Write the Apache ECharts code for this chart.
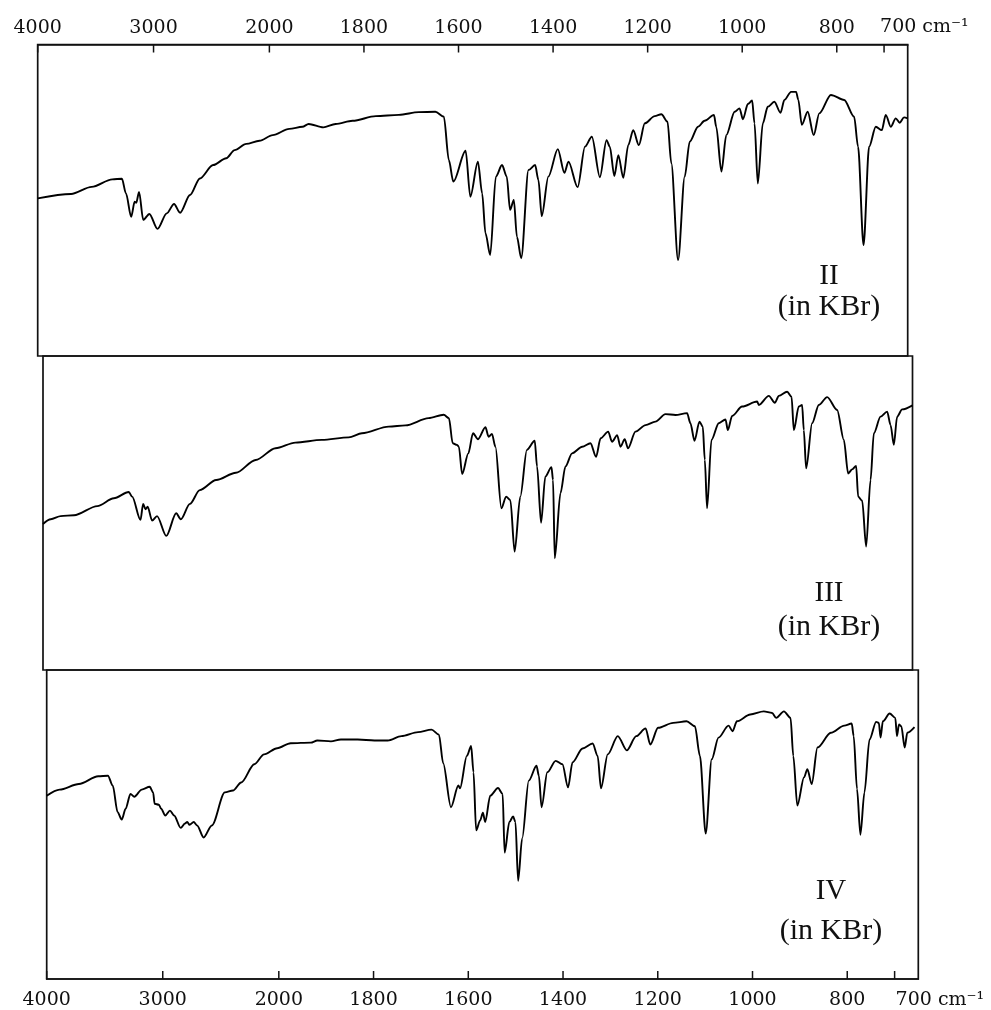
<!DOCTYPE html>
<html><head><meta charset="utf-8">
<script src="https://cdn.jsdelivr.net/npm/echarts@6/dist/echarts.min.js"></script>
<style>html,body{margin:0;padding:0;background:#fff}#c{width:991px;height:1010px}</style>
</head><body><div id="c"></div>
<script>
// ---- axis ticks (cm^-1) ----
const tickWavenumbers = [4000, 3000, 2000, 1800, 1600, 1400, 1200, 1000, 800, 700];
const labelWavenumbers = [4000, 3000, 2000, 1800, 1600, 1400, 1200, 1000, 800];
const axisEndWavenumber = 650;

// ---- spectrum II (in KBr) ----
const wnII = [4000,3712,3534,3356,3273,3238,3193,3163,3149,3125,
  3089,3036,2966,2886,2823,2771,2685,2600,2486,2372,
  2300,2200,2086,1993,1958,1930,1917,1886,1860,1824,
  1775,1726,1684,1649,1631,1620.5,1611,1585,1575,1559,
  1550,1543,1533,1521,1508,1498,1491,1483,1476.5,1467.4,
  1452,1438,1431,1424,1410,1390,1376,1367.5,1348,1332.5,
  1318,1301,1287,1280,1270.5,1262,1251.5,1241,1230.5,1218.6,
  1206,1185,1171,1158,1150,1135.6,1121.6,1111,1093.4,1079.5,
  1059.7,1055,1044,1033.7,1016,1005.7,998.5,988,979,974,
  967,956.4,946,932,919,910.8,896.7,886,881.3,874,
  861.5,848.8,837,812.4,784.3,763.3,755,743.4,731.6,717.5,
  704.8,696.4,685.8,675.3,666.8,657.8,650];
const tII = [50.6,52.0,54.3,56.7,56.9,52.2,44.7,49.5,49.2,52.7,
  43.7,45.6,40.8,45.8,48.8,46.0,51.7,57.0,61.3,63.5,
  66.1,68.1,69.1,70.9,72.9,73.6,74.5,73.4,74.5,75.5,
  77.0,77.4,78.3,78.4,76.8,62.9,56.0,65.9,51.1,62.4,
  52.2,39.4,32.4,57.6,61.3,57.6,46.9,50.1,38.3,31.4,
  59.7,61.3,56.5,44.9,57.6,66.4,58.8,62.4,54.2,67.2,
  70.4,57.4,69.3,67.2,57.8,64.5,57.2,67.7,72.5,67.7,
  74.7,77.0,77.6,75.2,61.9,30.8,57.6,68.8,73.6,75.5,
  77.4,73.6,59.2,70.9,78.4,79.5,76.0,80.9,82.0,74.7,
  55.4,74.7,80.0,81.6,78.1,82.2,84.8,84.8,82.2,74.2,
  78.4,70.9,77.9,83.8,82.2,76.8,67.2,35.6,67.2,73.6,
  72.5,77.4,73.6,76.3,74.9,76.6,76.3];

// ---- spectrum III (in KBr) ----
const wnIII = [4000,3933,3847,3732,3531,3388,3259,3230,3158,3135,
  3115,3096,3058,3015,2935,2850,2810,2731,2646,2504,
  2334,2163,1998,1956,1900,1843,1815,1758.5,1723,1674,
  1642,1631,1623,1614,1610,1603,1590,1580,1569.4,1553.8,
  1547,1540,1532.6,1520,1510,1501,1492,1480,1466,1449.4,
  1444.5,1436,1427,1414,1410.7,1407,1395,1384.4,1370.4,1349,
  1331.5,1319.6,1310,1294,1285.8,1275,1268,1259,1252,1236.2,
  1215,1194,1172.7,1151.6,1127,1120,1111.3,1100.8,1093.8,1089.5,
  1084.7,1075.4,1060,1045.7,1040.8,1031.7,1010.6,978.8,975.2,954,
  941.4,932.9,915.3,906,901.1,890.6,883.6,880,875.1,862.4,
  848.2,830.6,809.5,795.3,786.2,777.7,769.3,765,756.5,748.1,
  738.8,731.8,717.6,703.6,696.4,689.5,682.5,671.9,650];
const tIII = [46.5,48.0,49.0,49.3,52.2,54.7,56.7,55.2,47.8,52.9,
  51.2,52.0,47.6,49.0,42.7,49.9,48.0,52.9,57.3,60.5,
  62.8,66.9,70.6,72.4,73.3,74.1,75.4,77.5,77.9,80.2,
  81.3,80.2,72.2,71.7,71.1,62.4,69.0,75.4,73.5,77.3,
  74.3,75.2,71.1,51.5,55.2,54.1,37.7,55.2,70.1,73.0,
  64.8,46.9,61.6,64.6,60.5,35.6,56.3,64.8,69.0,71.1,
  72.2,67.9,73.8,75.9,72.7,74.8,71.1,73.5,70.6,75.9,
  78.0,79.1,81.5,81.2,81.8,78.6,73.0,79.1,77.5,66.9,
  51.5,73.3,78.6,79.8,76.4,80.9,83.9,85.5,84.4,87.3,
  85.1,87.3,88.6,87.0,76.4,83.9,84.4,76.4,64.2,78.6,
  84.4,86.9,82.8,73.3,62.6,63.9,65.0,55.2,53.9,39.3,
  60.5,75.4,80.7,82.3,78.0,71.7,80.7,83.0,84.3];

// ---- spectrum IV (in KBr) ----
const wnIV = [4000,3889,3722.5,3556,3472.5,3431,3389,3353.4,3320,3278,
  3245,3181,3112,3083,3070,3033,3014,2978,2938,2902,
  2845,2809,2789,2769,2733,2704,2648,2577,2465,2395,
  2324,2211,2127,2014,1975,1932.6,1918.6,1890,1869,1833.6,
  1798,1770,1741.3,1706,1677.6,1662,1653,1636.6,1621,1617.5,
  1603,1594,1589,1583.4,1575,1569.2,1564.3,1553.7,1537.3,1527.5,
  1523.3,1513.3,1505.4,1500.5,1494.8,1486.3,1472.3,1456,1451,1445.3,
  1433.2,1415.5,1401.3,1389.4,1380,1358.8,1337.5,1326.9,1319.9,1305.6,
  1284.4,1265.3,1245.5,1225.7,1215.7,1199.4,1167.5,1139.2,1121.6,1111,
  1098.8,1086.1,1071.8,1050.6,1042.1,1033,1004.7,976.2,958.6,950,
  933.7,919.7,913.9,905.4,891.2,884.2,875,862.9,834.6,806.2,
  790.6,786.4,779.4,772.2,763.7,753,739,733.3,729.7,724.8,
  710.5,698.6,695,690.8,685.9,678.7,673.2,658];
const tIV = [59.3,61.3,63.1,65.6,65.8,62.6,54.0,51.6,55.1,59.9,
  59.0,61.3,62.2,60.4,56.7,56.4,55.1,52.9,54.5,52.9,
  48.9,50.3,50.8,49.9,50.8,49.7,45.8,49.7,60.4,61.0,
  63.6,69.5,72.7,74.7,76.3,76.5,77.2,76.9,77.5,77.5,
  77.2,77.2,78.6,79.9,80.7,79.1,69.8,55.6,62.6,61.7,
  72.2,75.4,66.9,48.1,51.3,53.8,50.8,59.3,61.8,59.9,
  40.9,50.8,52.6,50.8,31.8,45.5,64.2,69.0,65.8,55.6,
  66.9,70.6,69.5,62.0,70.1,74.6,76.2,72.2,61.7,72.7,
  78.6,74.0,78.6,81.1,75.9,81.3,82.9,83.4,81.8,72.2,
  47.1,71.1,78.1,82.0,80.2,83.4,85.6,86.6,86.1,84.5,
  86.6,84.5,72.2,56.1,65.3,67.9,63.1,74.9,79.7,82.0,
  82.7,78.6,61.5,46.7,60.4,77.5,83.2,82.9,78.1,83.4,
  85.9,84.5,78.6,82.4,81.8,74.9,79.7,81.5];

const panelNames = ['II', 'III', 'IV'];
const panelMedium = '(in KBr)';

// grating-change abscissa: 4000-2000 compressed, 2000-650 expanded
function toU(w) { return w >= 2000 ? (4000 - w) * 0.245 : 490 + (2000 - w); }
const U_MAX = toU(axisEndWavenumber);
const tickU = tickWavenumbers.map(toU);
const labelU = labelWavenumbers.map(toU);
function labelOf(v) {
  const i = labelU.findIndex(t => Math.abs(t - v) < 0.01);
  return i >= 0 ? String(labelWavenumbers[i]) : '';
}

const chart = echarts.init(document.getElementById('c'), null, {renderer: 'canvas'});
const FONT = 'DejaVu Serif';
const grids = [
  {left: 37.7, top: 44.5, width: 870, height: 311.5},
  {left: 43, top: 356, width: 869.5, height: 314},
  {left: 46.7, top: 670, width: 871.6, height: 311.7}
].map(g => Object.assign({show: true, borderColor: '#111', borderWidth: 1.7}, g));

const spectra = [[wnII, tII], [wnIII, tIII], [wnIV, tIV]];

const xAxes = [0, 1, 2].map(i => ({
  type: 'value', gridIndex: i, min: 0, max: U_MAX,
  position: i === 0 ? 'top' : 'bottom',
  splitLine: {show: false},
  axisLine: {show: i !== 1, onZero: false, lineStyle: {color: '#111', width: 1.7}},
  axisTick: {show: false},
  axisLabel: {show: i !== 1, customValues: labelU, formatter: labelOf, margin: i === 0 ? 7 : 12,
    fontFamily: FONT, fontSize: 19, color: '#111'}
}));
const yAxes = [0, 1, 2].map(i => ({type: 'value', gridIndex: i, min: 0, max: 100, show: false}));

const series = spectra.map((s, i) => ({
  type: 'line', xAxisIndex: i, yAxisIndex: i, z: 5,
  data: s[0].map((w, k) => [toU(w), s[1][k]]),
  showSymbol: false, smooth: 0.3, smoothMonotone: 'x',
  lineStyle: {color: '#000', width: 1.9}, silent: true
}));

chart.setOption({
  animation: false,
  backgroundColor: '#fff',
  grid: grids, xAxis: xAxes, yAxis: yAxes, series: series
});

// tick marks, located through the axes' own scales, pointing into the frame
const graphics = [];
const yTop = chart.convertToPixel({yAxisIndex: 0}, 100);
const yBot = chart.convertToPixel({yAxisIndex: 2}, 0);
tickU.forEach(u => {
  const xt = chart.convertToPixel({xAxisIndex: 0}, u);
  const xb = chart.convertToPixel({xAxisIndex: 2}, u);
  graphics.push({type: 'line', z: 100, shape: {x1: xt, y1: yTop, x2: xt, y2: yTop + 8}, style: {stroke: '#111', lineWidth: 1.5}});
  graphics.push({type: 'line', z: 100, shape: {x1: xb, y1: yBot, x2: xb, y2: yBot - 8}, style: {stroke: '#111', lineWidth: 1.5}});
});

// texts: sample labels and the "700 cm-1" end labels
const x700top = chart.convertToPixel({xAxisIndex: 0}, toU(700));
const x700bot = chart.convertToPixel({xAxisIndex: 2}, toU(700));
const labelPos = [[829, 276, 307], [829, 593, 627], [831, 891, 931]];
labelPos.forEach((p, i) => {
  graphics.push({type: 'text', x: p[0], y: p[1], style: {text: panelNames[i], font: '29px "Liberation Serif"', fill: '#111', textAlign: 'center', textVerticalAlign: 'middle'}});
  graphics.push({type: 'text', x: p[0], y: p[2], style: {text: panelMedium, font: '30px "Liberation Serif"', fill: '#111', textAlign: 'center', textVerticalAlign: 'middle'}});
});
graphics.push({type: 'text', x: x700top - 4, y: 27, style: {text: '700 cm⁻¹', font: '19px "DejaVu Serif"', fill: '#111', textAlign: 'left', textVerticalAlign: 'middle'}});
graphics.push({type: 'text', x: x700bot + 1, y: 1000, style: {text: '700 cm⁻¹', font: '19px "DejaVu Serif"', fill: '#111', textAlign: 'left', textVerticalAlign: 'middle'}});
chart.setOption({graphic: graphics});
</script></body></html>
